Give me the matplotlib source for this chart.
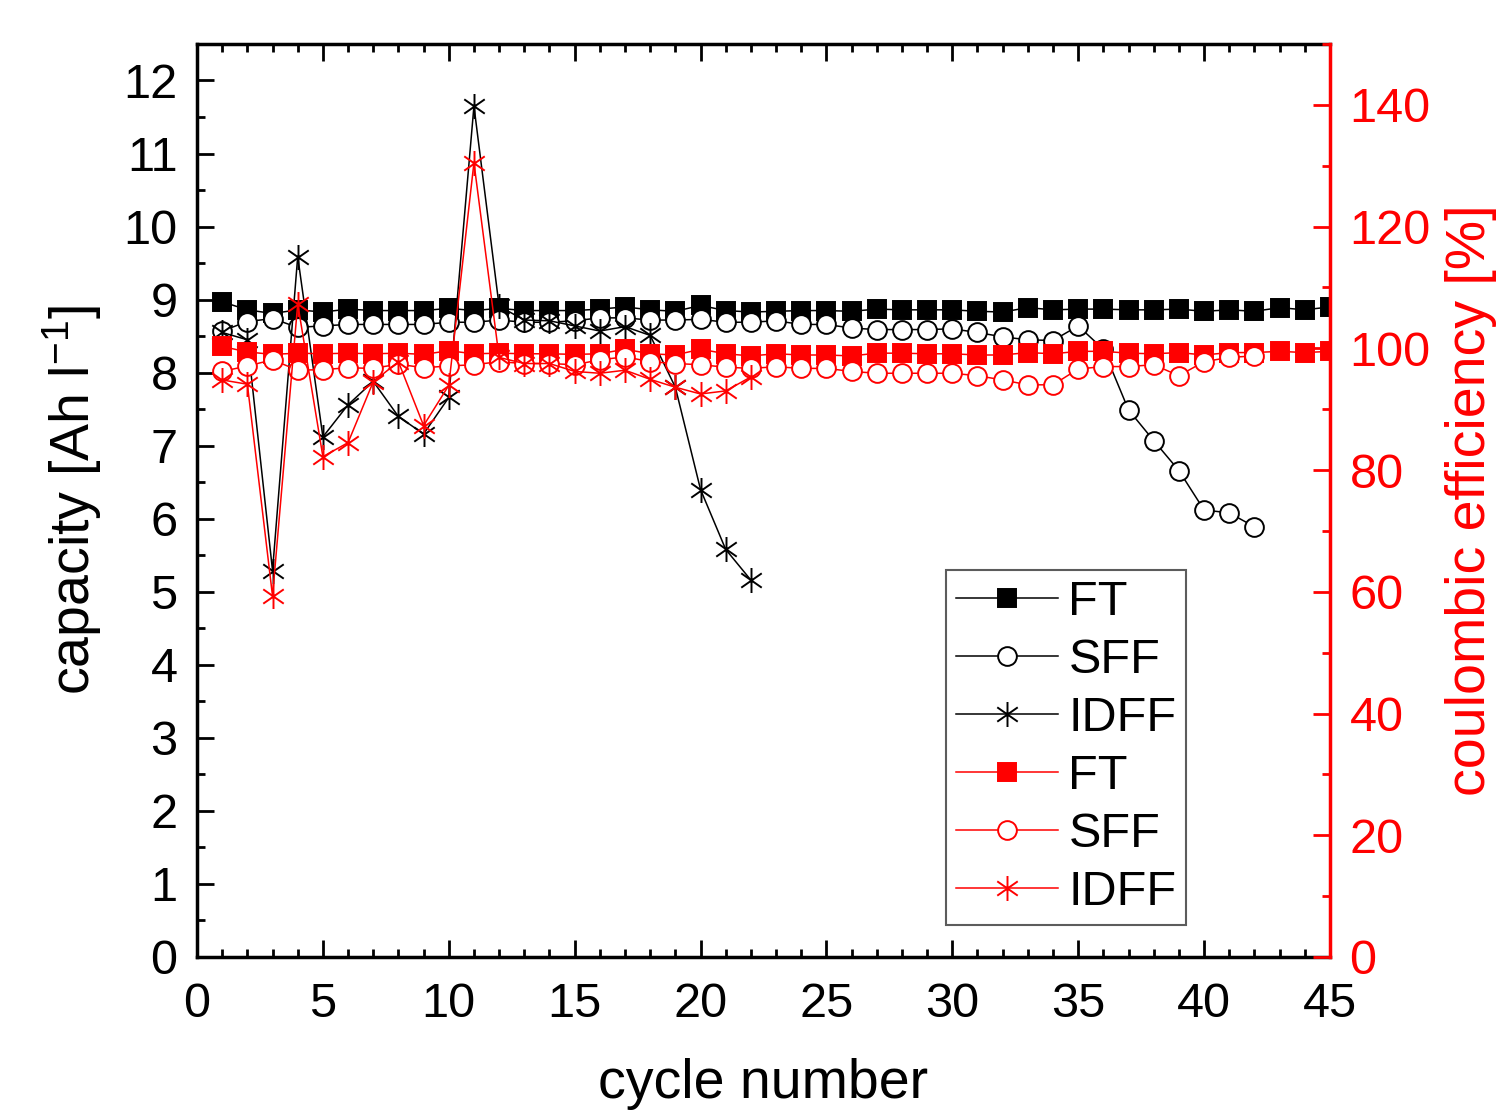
import matplotlib
matplotlib.use("Agg")
import matplotlib.pyplot as plt
from matplotlib.path import Path
from matplotlib.ticker import MultipleLocator
import numpy as np

plt.rcParams['font.family'] = ['Liberation Sans', 'DejaVu Sans']
plt.rcParams['mathtext.fontset'] = 'custom'
plt.rcParams['mathtext.rm'] = 'Liberation Sans'
plt.rcParams['mathtext.it'] = 'Liberation Sans'
plt.rcParams['mathtext.bf'] = 'Liberation Sans'

# ---- data ----
cycles_ft = list(range(1, 46))
cap_ft = [8.97, 8.86, 8.81, 8.86, 8.83, 8.87, 8.85, 8.85, 8.85, 8.88,
          8.85, 8.88, 8.85, 8.85, 8.85, 8.87, 8.90, 8.86, 8.84, 8.92,
          8.85, 8.83, 8.84, 8.85, 8.85, 8.84, 8.87, 8.86, 8.86, 8.86,
          8.84, 8.83, 8.89, 8.86, 8.87, 8.87, 8.86, 8.86, 8.87, 8.84,
          8.86, 8.84, 8.89, 8.86, 8.90]

cycles_sff = list(range(1, 43))
cap_sff = [8.57, 8.70, 8.74, 8.62, 8.64, 8.66, 8.66, 8.66, 8.66, 8.69,
           8.69, 8.72, 8.69, 8.69, 8.71, 8.75, 8.75, 8.72, 8.72, 8.73,
           8.69, 8.69, 8.71, 8.66, 8.66, 8.61, 8.59, 8.59, 8.59, 8.60,
           8.55, 8.49, 8.45, 8.44, 8.64, 8.32, 7.49, 7.07, 6.66, 6.12,
           6.08, 5.89]

cycles_idff = list(range(1, 23))
cap_idff = [8.55, 8.45, 5.29, 9.59, 7.12, 7.56, 7.88, 7.40, 7.16, 7.66,
            11.65, 8.91, 8.72, 8.71, 8.64, 8.57, 8.63, 8.51, 7.80, 6.40,
            5.58, 5.16]

ce_ft = [100.3, 99.4, 99.0, 99.2, 99.1, 99.2, 99.1, 99.2, 99.0, 99.6,
         99.1, 99.2, 99.1, 99.1, 99.0, 99.1, 99.85, 99.1, 98.9, 99.85,
         99.1, 98.75, 99.1, 98.9, 98.9, 98.75, 99.2, 99.2, 99.1, 99.1,
         98.9, 98.9, 99.3, 99.1, 99.5, 99.5, 99.2, 99.1, 99.3, 98.9,
         99.3, 99.3, 99.5, 99.3, 99.5]

ce_sff = [96.2, 97.1, 98.1, 96.4, 96.5, 96.8, 96.7, 97.4, 96.8, 97.1,
          97.3, 97.8, 97.5, 97.5, 97.3, 98.1, 98.6, 97.8, 97.5, 97.3,
          96.9, 96.7, 96.97, 96.7, 96.7, 96.2, 95.9, 95.9, 95.9, 95.9,
          95.5, 94.8, 94.0, 94.0, 96.6, 97.0, 97.0, 97.3, 95.5, 97.8,
          98.5, 98.75]

ce_idff = [94.8, 94.1, 59.3, 107.3, 82.2, 84.5, 94.5, 97.8, 87.3, 93.9,
           130.5, 98.5, 97.5, 97.5, 96.2, 95.9, 96.4, 94.9, 93.6, 92.5,
           93.0, 95.3]

labels = ["FT", "SFF", "IDFF"]
x_ticks = [0, 5, 10, 15, 20, 25, 30, 35, 40, 45]

# asterisk marker (6 spokes)
ang = np.deg2rad([90, 35, 145])
verts = []
codes = []
for a in ang:
    verts += [(np.cos(a), np.sin(a)), (-np.cos(a), -np.sin(a))]
    codes += [Path.MOVETO, Path.LINETO]
star = Path(verts, codes)

RED = '#FF0000'

fig = plt.figure(figsize=(14.97, 11.16), dpi=100)
ax = fig.add_axes([0.1316, 0.1425, 0.8884 - 0.1316, 0.9606 - 0.1425])
ax2 = ax.twinx()

lw = 1.1
mew = 1.4
h1, = ax.plot(cycles_ft, cap_ft, color='black', lw=lw, marker='s', ms=12.5,
              mfc='black', mec='black', mew=mew, label=labels[0])
h2, = ax.plot(cycles_sff, cap_sff, color='black', lw=lw, marker='o', ms=13.5,
              mfc='white', mec='black', mew=mew, label=labels[1])
h3, = ax.plot(cycles_idff, cap_idff, color='black', lw=lw, marker=star, ms=18,
              mfc='none', mec='black', mew=mew, label=labels[2])
h4, = ax2.plot(cycles_ft, ce_ft, color=RED, lw=lw, marker='s', ms=12.5,
               mfc=RED, mec=RED, mew=mew, label=labels[0])
h5, = ax2.plot(cycles_sff, ce_sff, color=RED, lw=lw, marker='o', ms=13.5,
               mfc='white', mec=RED, mew=mew, label=labels[1])
h6, = ax2.plot(cycles_idff, ce_idff, color=RED, lw=lw, marker=star, ms=18,
               mfc='none', mec=RED, mew=mew, label=labels[2])

ax.set_xlim(0, 45)
ax.set_ylim(0, 12.5)
ax2.set_ylim(0, 150)

ax.set_xticks(x_ticks)
ax.xaxis.set_minor_locator(MultipleLocator(1))
ax.yaxis.set_major_locator(MultipleLocator(1))
ax.yaxis.set_minor_locator(MultipleLocator(0.5))
ax2.yaxis.set_major_locator(MultipleLocator(20))
ax2.yaxis.set_minor_locator(MultipleLocator(10))

FS = 35
ax.tick_params(axis='both', which='major', direction='in', length=12, width=2,
               labelsize=FS)
ax.tick_params(axis='x', which='major', pad=18)
ax.tick_params(axis='y', which='major', pad=14)
ax.tick_params(axis='both', which='minor', direction='in', length=6, width=2)
ax.tick_params(axis='x', which='both', top=True)
ax.tick_params(axis='y', which='both', right=False)
ax2.tick_params(axis='y', which='major', direction='in', length=12, width=2,
                labelsize=FS, colors=RED, pad=14)
ax2.tick_params(axis='y', which='minor', direction='in', length=6, width=2,
                colors=RED)

for s in ['left', 'bottom', 'top']:
    ax.spines[s].set_linewidth(2.5)
ax.spines['right'].set_visible(False)
for s in ['left', 'bottom', 'top']:
    ax2.spines[s].set_visible(False)
ax2.spines['right'].set_linewidth(2.5)
ax2.spines['right'].set_color(RED)

ax.set_xlabel('cycle number', fontsize=40, labelpad=22)
ax.set_ylabel('capacity [Ah l$^{-1}$]', fontsize=40, labelpad=14)
ax2.set_ylabel('coulombic efficiency [%]', fontsize=40, color=RED, labelpad=10)

leg = ax2.legend(handles=[h1, h2, h3, h4, h5, h6], loc='lower left',
                 bbox_to_anchor=(0.661, 0.035), fontsize=FS, frameon=True,
                 fancybox=False, edgecolor='#333333', handlelength=2.1,
                 handletextpad=0.22, labelspacing=0.27, borderpad=0.2,
                 borderaxespad=0)
leg.get_frame().set_linewidth(1.5)

fig.savefig('out.png', dpi=100)
